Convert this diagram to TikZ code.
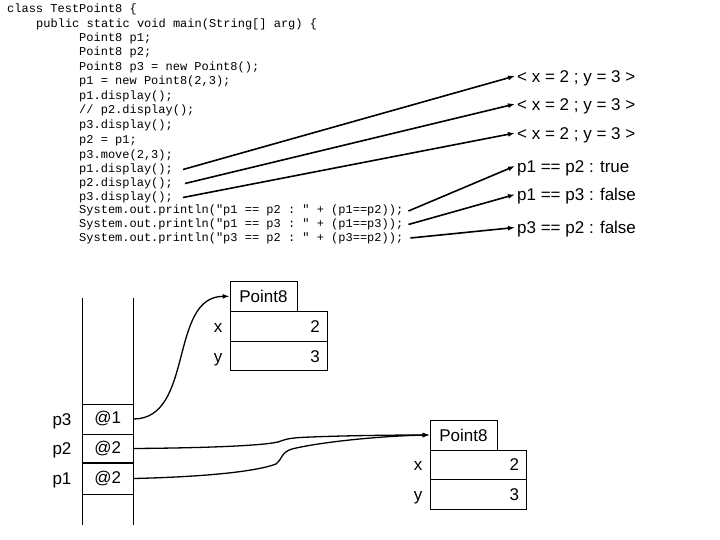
\documentclass[tikz,border=0pt]{standalone}
\usepackage{fontspec}
\setmainfont{Liberation Sans}
\setmonofont{Liberation Mono}
\usetikzlibrary{arrows.meta}
\begin{document}
\begin{tikzpicture}[x=1pt,y=-1pt,
  code/.style={font=\fontsize{12}{12}\selectfont\ttfamily, anchor=west, inner sep=0pt, text height=8.5pt, text depth=2.5pt},
  lab/.style={font=\fontsize{17}{17}\selectfont, anchor=west, inner ysep=0pt, inner xsep=2pt, text height=12.5pt, text depth=0pt},
  sf/.style={font=\fontsize{17}{17}\selectfont, inner sep=0pt, text height=12.5pt, text depth=0pt},
  codearr/.style={line width=1.6pt, -{Latex[length=7pt,width=5pt]}},
  ref/.style={line width=1.3pt, -{Latex[length=7pt,width=5pt]}},
  box/.style={draw, line width=0.9pt, inner sep=0pt, minimum width=#1},
  cell/.style={draw, line width=0.9pt, inner sep=0pt, minimum width=50.5pt, font=\fontsize{17}{17}\selectfont}
]
\useasboundingbox (0,0) rectangle (720,540);
% code
\node[code] (c1) at (7,9.7) {class TestPoint8 \{};
\node[code] (c2) at (36,24.5) {public static void main(String[] arg) \{};
\node[code] (c3) at (79,38.5) {Point8 p1;};
\node[code] (c4) at (79,53) {Point8 p2;};
\node[code] (c5) at (79,67.5) {Point8 p3 = new Point8();};
\node[code] (c6) at (79,82) {p1 = new Point8(2,3);};
\node[code] (c7) at (79,96.5) {p1.display();};
\node[code] (c8) at (79,111) {// p2.display();};
\node[code] (c9) at (79,126) {p3.display();};
\node[code] (c10) at (79,141) {p2 = p1;};
\node[code] (c11) at (79,155.5) {p3.move(2,3);};
\node[code] (c12) at (79,169.5) {p1.display();};
\node[code] (c13) at (79,183.5) {p2.display();};
\node[code] (c14) at (79,197.5) {p3.display();};
\node[code] (c15) at (79,211) {System.out.println("p1 == p2 : " + (p1==p2));};
\node[code] (c16) at (79,224.5) {System.out.println("p1 == p3 : " + (p1==p3));};
\node[code] (c17) at (79,238) {System.out.println("p3 == p2 : " + (p3==p2));};
% outputs
\node[lab] (o1) at (515,76) {< x = 2 ; y = 3 >};
\node[lab] (o2) at (515,104) {< x = 2 ; y = 3 >};
\node[lab] (o3) at (515,133) {< x = 2 ; y = 3 >};
\node[lab] (o4) at (515,166) {p1 == p2 : true};
\node[lab] (o5) at (515,194.5) {p1 == p3 : false};
\node[lab] (o6) at (515,227.5) {p3 == p2 : false};
\draw[codearr] ([xshift=10pt]c12.east) -- (o1.west);
\draw[codearr] ([xshift=12pt]c13.east) -- (o2.west);
\draw[codearr] ([xshift=10pt]c14.east) -- (o3.west);
\draw[codearr] ([xshift=5pt]c15.east) -- (o4.west);
\draw[codearr] ([xshift=5pt]c16.east) -- (o5.west);
\draw[codearr] ([xshift=7pt]c17.east) -- (o6.west);
% stack
\draw[line width=0.9pt] (82.5,298) -- (82.5,525);
\draw[line width=0.9pt] (133,298) -- (133,525);
\node[cell, minimum height=30pt] (s3) at (107.75,419) {@1};
\node[cell, minimum height=29pt] (s2) at (107.75,448.5) {@2};
\node[cell, minimum height=31pt] (s1) at (107.75,478.5) {@2};
\draw[line width=2pt] (s2.south west) -- (s2.south east);
\node[sf] (l3) at (62,419) {p3};
\node[sf] (l2) at (62,448.5) {p2};
\node[sf] (l1) at (62,478.5) {p1};
% object 1
\node[box=67pt, minimum height=30.7pt, sf, draw] (h1) at (263.5,296.35) {Point8};
\node[box=97.7pt, minimum height=29.3pt] (a1) at (278.85,326.35) {};
\node[box=97.7pt, minimum height=29.7pt] (b1) at (278.85,355.85) {};
\node[sf] (ax1) at (218,326.35) {x};
\node[sf] (by1) at (218,355.85) {y};
\node[sf, anchor=east] (av1) at ([xshift=-8pt]a1.east) {2};
\node[sf, anchor=east] (bv1) at ([xshift=-8pt]b1.east) {3};
% object 2
\node[box=67pt, minimum height=30pt, sf, draw] (h2) at (463.5,435) {Point8};
\node[box=96.7pt, minimum height=29.3pt] (a2) at (478.35,464.65) {};
\node[box=96.7pt, minimum height=29.7pt] (b2) at (478.35,494.15) {};
\node[sf] (ax2) at (418,464.65) {x};
\node[sf] (by2) at (418,494.15) {y};
\node[sf, anchor=east] (av2) at ([xshift=-8pt]a2.east) {2};
\node[sf, anchor=east] (bv2) at ([xshift=-8pt]b2.east) {3};
% references
\draw[ref] (s3.east) to[out=0,in=180] (h1.west);
\draw[ref] (s2.east) .. controls (200,448) and (260,446) .. (278,442)
  .. controls (284,440) and (286,438.5) .. (300,437.5)
  .. controls (340,435.5) and (400,435) .. (h2.west);
\draw[ref] (s1.east) .. controls (200,477) and (255,472) .. (276,464)
  .. controls (282,460) and (281,452) .. (292,449)
  .. controls (320,442) and (380,436) .. (h2.west);
\end{tikzpicture}
\end{document}
